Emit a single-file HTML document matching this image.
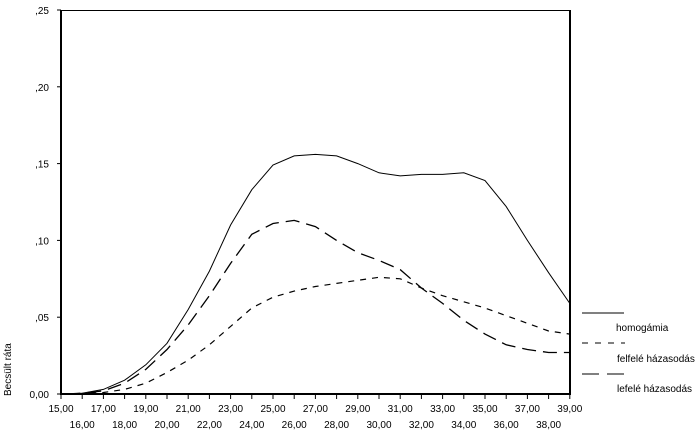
<!DOCTYPE html>
<html><head><meta charset="utf-8"><style>
html,body{margin:0;padding:0;background:#fff;}
svg text{font-family:"Liberation Sans",sans-serif;font-size:10px;fill:#000;}
</style></head><body>
<svg width="698" height="431" xmlns="http://www.w3.org/2000/svg">
<rect width="698" height="431" fill="#fff"/>
<g id="plot"></g>
</svg>
<script>
const X=t=>61+(t-15)*21.2, Y=v=>394-v*1536;
const hom=[0,0.0005,0.003,0.009,0.019,0.033,0.055,0.08,0.11,0.133,0.149,0.155,0.156,0.155,0.150,0.144,0.142,0.143,0.143,0.144,0.139,0.122,0.100,0.079,0.059];
const le=[0,0.0005,0.002,0.007,0.016,0.029,0.045,0.064,0.085,0.104,0.111,0.113,0.109,0.100,0.092,0.087,0.081,0.069,0.059,0.048,0.039,0.032,0.029,0.027,0.027];
const fel=[0,0.0003,0.001,0.003,0.007,0.014,0.022,0.032,0.044,0.056,0.063,0.067,0.070,0.072,0.074,0.076,0.075,0.069,0.064,0.060,0.056,0.051,0.046,0.041,0.039];
let s='';
const pts=a=>a.map((v,i)=>X(15+i+(i==0?0.25:0)).toFixed(1)+','+Y(v).toFixed(1)).join(' ');
s+=`<polyline points="${pts(hom)}" fill="none" stroke="#000" stroke-width="1"/>`;
s+=`<polyline points="${pts(le)}" fill="none" stroke="#000" stroke-width="1.3" stroke-dasharray="14,7"/>`;
s+=`<polyline points="${pts(fel)}" fill="none" stroke="#000" stroke-width="1.2" stroke-dasharray="6,6"/>`;
// frame
s+=`<line x1="61" y1="10.5" x2="570" y2="10.5" stroke="#000" stroke-width="1"/>`;
s+=`<line x1="61" y1="394" x2="570" y2="394" stroke="#000" stroke-width="2"/>`;
s+=`<line x1="61" y1="10" x2="61" y2="395" stroke="#000" stroke-width="2"/>`;
s+=`<line x1="570" y1="10" x2="570" y2="395" stroke="#000" stroke-width="2"/>`;
const yl=[["0,00",0],[",05",.05],[",10",.1],[",15",.15],[",20",.2],[",25",.25]];
yl.forEach(([l,v])=>{const y=Y(v);s+=`<line x1="57" y1="${y}" x2="61" y2="${y}" stroke="#000"/><text x="49" y="${y+4}" text-anchor="end">${l}</text>`;});
for(let t=15;t<=39;t++){const x=X(t);s+=`<line x1="${x}" y1="394" x2="${x}" y2="399" stroke="#000"/>`;
 const yy=(t%2)?412:428;s+=`<text x="${x}" y="${yy}" text-anchor="middle">${t},00</text>`;}
s+=`<text transform="translate(11,396) rotate(-90)" font-size="9">Becsült ráta</text>`;
s+=`<line x1="582" y1="313" x2="624" y2="313" stroke="#000"/>`;
s+=`<line x1="582" y1="343" x2="625" y2="343" stroke="#000" stroke-dasharray="6,7"/>`;
s+=`<line x1="582" y1="374" x2="625" y2="374" stroke="#000" stroke-dasharray="17,8"/>`;
s+=`<text x="616" y="331" font-size="9">homogámia</text>`;
s+=`<text x="617" y="362" font-size="9">felfelé házasodás</text>`;
s+=`<text x="617" y="392" font-size="9">lefelé házasodás</text>`;
document.getElementById('plot').innerHTML=s;
</script>
</body></html>
